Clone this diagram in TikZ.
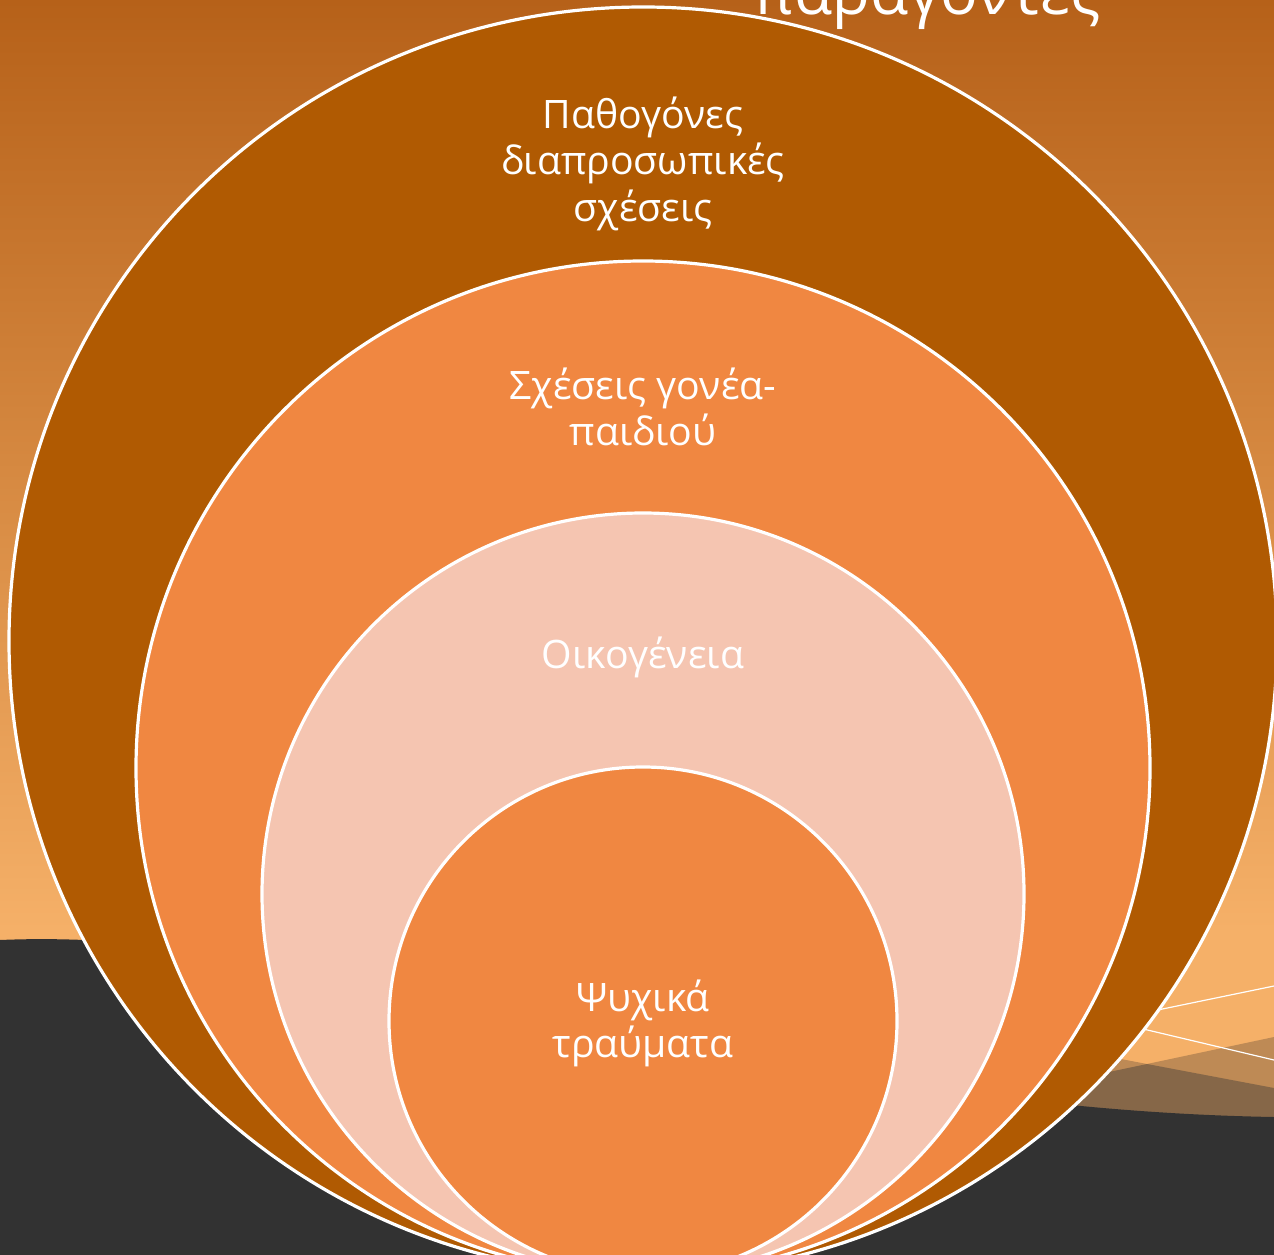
\documentclass[tikz,border=0pt]{standalone}
\usepackage{fontspec}
\setmainfont{Open Sans}
\definecolor{bgtop}{HTML}{B66119}
\definecolor{bgbot}{HTML}{F5B068}
\definecolor{outerc}{HTML}{B05A02}
\definecolor{midc}{HTML}{F08741}
\definecolor{pinkc}{HTML}{F5C5B1}
\definecolor{darkc}{HTML}{323232}
\definecolor{lbrown}{HTML}{BE8A55}
\definecolor{dbrown}{HTML}{866748}
\begin{document}
\begin{tikzpicture}[x=0.75pt,y=0.75pt,
  ring/.style={circle, draw=white, line width=2.4pt, inner sep=0pt},
  lbl/.style={text=white, font=\fontsize{29.4}{35}\selectfont, anchor=base, inner sep=0pt}]
\useasboundingbox (0,0) rectangle (1274,-1255);
\clip (0,0) rectangle (1274,-1255);
% background
\shade[top color=bgtop, bottom color=bgbot] (0,0) rectangle (1274,-930);
\fill[bgbot] (0,-929) rectangle (1274,-1255);
% brown bands on the right
\fill[lbrown] (1000,-1095) -- (1147,-1064) -- (1274,-1037) -- (1274,-1200) -- (1000,-1200) -- cycle;
\fill[lbrown] (1000,-1036) -- (1147,-1064) -- (1274,-1088) -- (1274,-1200) -- (1000,-1200) -- cycle;
\fill[dbrown] (1000,-1095) -- (1147,-1064) -- (1274,-1088) -- (1274,-1200) -- (1000,-1200) -- cycle;
% thin white lines
\draw[white, line width=0.9pt] (1080,-1026) -- (1274,-986);
\draw[white, line width=0.9pt] (1080,-1014) -- (1274,-1060);
% dark ground
\fill[darkc] (0,-940) .. controls (350,-925) and (750,-1108) .. (1274,-1117) -- (1274,-1255) -- (0,-1255) -- cycle;
% title (mostly outside the page)
\node[text=white, font=\fontsize{47}{56}\selectfont, anchor=base west, inner sep=0pt] (title) at (753,-15) {παράγοντες};
% rings
\node[ring, fill=outerc, minimum size=951pt] (c1) at (643,-641) {};
\node[ring, fill=midc, minimum size=760.5pt] (c2) at (643,-768) {};
\node[ring, fill=pinkc, minimum size=571.5pt] (c3) at (643,-894) {};
\node[ring, fill=midc, minimum size=381pt] (c4) at (643,-1021) {};
% labels
\node[lbl] (t1a) at (643,-129) {Παθογόνες};
\node[lbl] (t1b) at (643,-175) {διαπροσωπικές};
\node[lbl] (t1c) at (643,-222) {σχέσεις};
\node[lbl] (t2a) at (643,-399) {Σχέσεις γονέα-};
\node[lbl] (t2b) at (643,-445) {παιδιού};
\node[lbl] (t3) at (643,-668) {Οικογένεια};
\node[lbl] (t4a) at (643,-1011) {Ψυχικά};
\node[lbl] (t4b) at (643,-1057) {τραύματα};
\end{tikzpicture}
\end{document}
